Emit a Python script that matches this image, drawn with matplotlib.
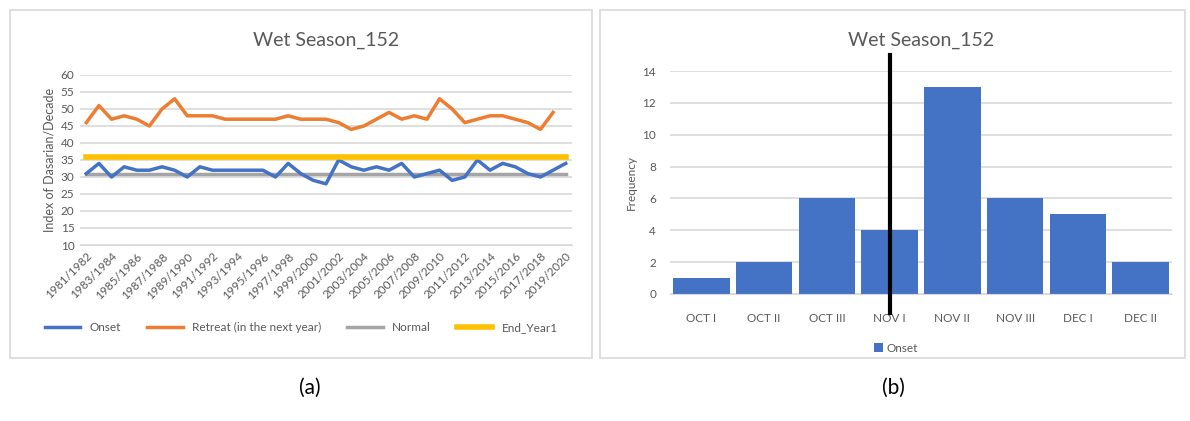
import matplotlib.pyplot as plt
from matplotlib.patches import Rectangle

plt.rcParams['font.family'] = ['Lato', 'DejaVu Sans']

# Data (a) - dasarian index per wet season
seasons = [f'{y}/{y + 1}' for y in range(1981, 2020)]
onset = [31, 34, 30, 33, 32, 32, 33, 32, 30, 33, 32, 32, 32, 32, 32, 30, 34, 31, 29, 28,
         35, 33, 32, 33, 32, 34, 30, 31, 32, 29, 30, 35, 32, 34, 33, 31, 30, 32, 34]
retreat = [46, 51, 47, 48, 47, 45, 50, 53, 48, 48, 48, 47, 47, 47, 47, 47, 48, 47, 47, 47,
           46, 44, 45, 47, 49, 47, 48, 47, 53, 50, 46, 47, 48, 48, 47, 46, 44, 49]
normal = [31] * len(seasons)
end_year1 = [36] * len(seasons)

# Data (b) - onset frequency
dasarian = ['OCT I', 'OCT II', 'OCT III', 'NOV I', 'NOV II', 'NOV III', 'DEC I', 'DEC II']
frequency = [1, 2, 6, 4, 13, 6, 5, 2]
normal_onset = 'NOV I'

txt = '#595959'
grid = '#D9D9D9'

fig = plt.figure(figsize=(11.9, 4.21), dpi=100)

# chart area borders
for x0, w in [(10, 582), (600, 585)]:
    fig.patches.append(Rectangle((x0 / 1190, (421 - 358) / 421), w / 1190, 348 / 421,
                                 transform=fig.transFigure, fill=False,
                                 edgecolor=grid, lw=1.2))

# ---- (a) line chart
ax1 = fig.add_axes([80 / 1190, (421 - 245) / 421, 492 / 1190, 170 / 421])
xs = range(len(seasons))
ax1.plot(xs, onset, color='#4472C4', lw=2.5, label='Onset', zorder=3)
ax1.plot(range(len(retreat)), retreat, color='#ED7D31', lw=2.5,
         label='Retreat (in the next year)', zorder=3)
ax1.plot(xs, normal, color='#A5A5A5', lw=2.5, label='Normal', zorder=2)
ax1.plot(xs, end_year1, color='#FFC000', lw=4, label='End_Year1', zorder=4)
ax1.set_xlim(-0.5, len(seasons) - 0.5)
ax1.set_ylim(10, 60)
ax1.set_yticks(range(10, 61, 5))
ax1.set_xticks(list(xs)[::2])
ax1.set_xticklabels(seasons[::2], rotation=45, ha='right', rotation_mode='anchor')
ax1.grid(axis='y', color=grid, lw=1.2)
ax1.set_axisbelow(True)
for s in ['top', 'right', 'left']:
    ax1.spines[s].set_visible(False)
ax1.spines['bottom'].set_color(grid)
ax1.tick_params(length=0, labelsize=8.5, colors=txt, pad=4)
ax1.set_ylabel('Index of Dasarian/Decade', fontsize=9, color=txt)
ax1.set_title('Wet Season_152', fontsize=14, color=txt, pad=21)
ax1.legend(loc='upper center', bbox_to_anchor=(0.45, -0.39), ncol=4, frameon=False,
           fontsize=8.5, labelcolor=txt, handlelength=3, columnspacing=2.2)

# ---- (b) bar chart
ax2 = fig.add_axes([670 / 1190, (421 - 294) / 421, 502 / 1190, 223 / 421])
ax2.bar(dasarian, frequency, width=0.9, color='#4472C4', label='Onset', zorder=2)
ax2.set_xlim(-0.5, len(dasarian) - 0.5)
ax2.set_ylim(0, 14)
ax2.set_yticks(range(0, 15, 2))
ax2.grid(axis='y', color=grid, lw=1.2)
ax2.set_axisbelow(True)
for s in ['top', 'right', 'left']:
    ax2.spines[s].set_visible(False)
ax2.spines['bottom'].set_color(grid)
ax2.tick_params(axis='y', length=0, labelsize=8.5, colors=txt, pad=10)
ax2.tick_params(axis='x', length=0, labelsize=8.5, colors=txt, pad=14)
ax2.set_ylabel('Frequency', fontsize=8.5, color=txt)
ax2.set_title('Wet Season_152', fontsize=14, color=txt, pad=18)
xi = dasarian.index(normal_onset)
ax2.plot([xi, xi], [-1.2, 15.0], color='black', lw=3, clip_on=False, zorder=5)
ax2.legend(loc='upper center', bbox_to_anchor=(0.45, -0.17), frameon=False,
           fontsize=8.5, labelcolor=txt, handlelength=0.7, handleheight=0.7,
           handletextpad=0.3)

fig.text(310 / 1190, (421 - 388) / 421, '(a)', fontsize=15, ha='center', va='center')
fig.text(893 / 1190, (421 - 388) / 421, '(b)', fontsize=15, ha='center', va='center')

fig.savefig('out.png', dpi=100)
